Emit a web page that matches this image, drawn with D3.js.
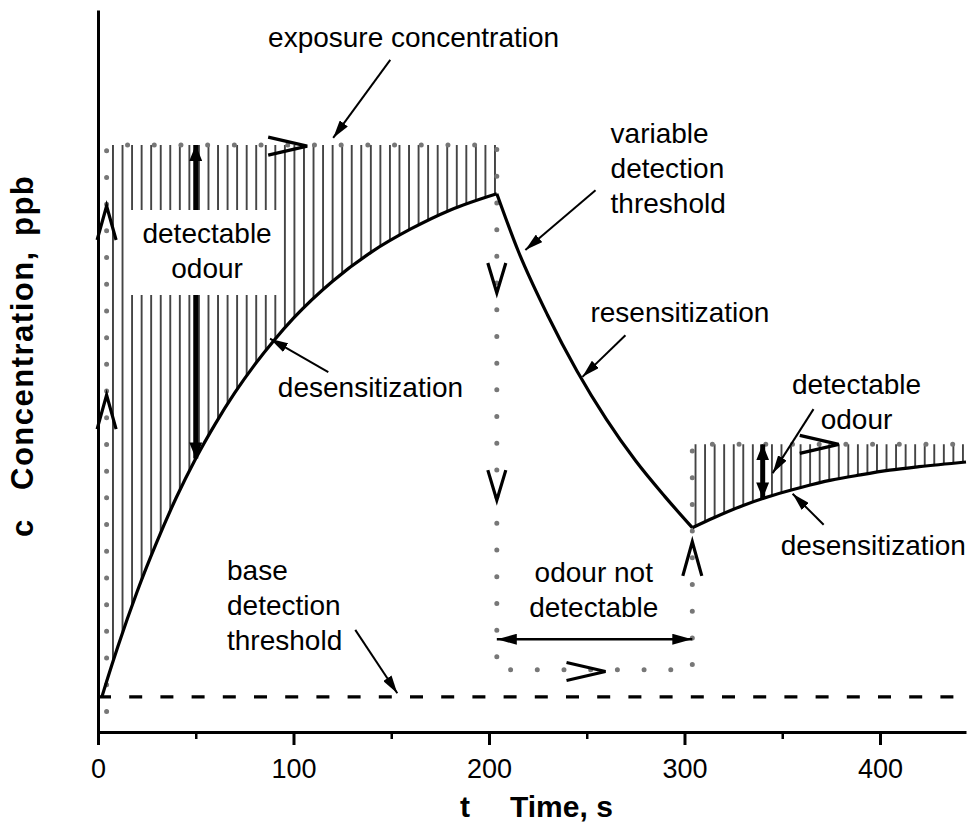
<!DOCTYPE html>
<html>
<head>
<meta charset="utf-8">
<script src="https://cdn.jsdelivr.net/npm/d3@7"></script>
<style>
  body { margin: 0; background: #fff; }
  text { font-family: "Liberation Sans", Arial, sans-serif; fill: #000; }
</style>
</head>
<body>
<svg id="chart" width="972" height="827"></svg>
<script>
// ---- time axis ----
const majorTicks = [0, 100, 200, 300, 400];
const minorTicks = [50, 150, 250, 350];

// ---- exposure concentration (step profile, ppb) ----
const exposureT = [4.4, 4.4, 204, 204, 304, 304, 444];
const exposureC = [3.5, 100, 100, 10.6, 10.6, 49, 49];

// ---- variable detection threshold ----
// desensitization during the first exposure
const desens1T = [2, 4.4, 10, 20, 30, 40, 50, 60, 70, 80, 90, 100, 120, 140, 160, 180, 204];
const desens1C = [6.0, 8.6, 14.4, 23.9, 32.3, 39.9, 46.6, 52.5, 57.8, 62.5, 66.7, 70.5, 76.8, 81.8, 85.7, 88.9, 91.7];
// resensitization without exposure
const resensT = [204, 215, 230, 245, 260, 275, 290, 304];
const resensC = [91.7, 81.9, 71.0, 61.5, 53.3, 46.2, 40.1, 34.8];
// desensitization during the second exposure
const desens2T = [304, 315, 330, 345, 360, 375, 390, 405, 420, 444];
const desens2C = [34.8, 36.5, 38.6, 40.3, 41.7, 42.9, 43.8, 44.6, 45.2, 46.0];

// base detection threshold
const baseThreshold = 6;

// ---- direction marks on the exposure profile: [t, c, direction] ----
const chevrons = [
  [4.4, 89.6, "up"], [4.4, 57.4, "up"],
  [107, 99.8, "right"],
  [204, 74.8, "down"], [204, 39.5, "down"],
  [259.6, 10.3, "right"],
  [304, 32.4, "up"],
  [378.9, 49, "right"]
];

// ---- labelled arrows: [t0, c0, t1, c1] ----
const pointerArrows = [
  [149.5, 114.5, 120.3, 101.2],   // exposure concentration
  [254.5, 92.3, 218.6, 82.1],     // variable detection threshold
  [269.8, 67.6, 247.8, 60.5],     // resensitization
  [131.6, 17.4, 153.1, 6.6],      // base detection threshold
  [371.2, 35.3, 355.3, 40.6],     // desensitization (2nd)
  [366.0, 55.0, 345.1, 44.1],     // detectable odour (2nd)
  [117.8, 61.3, 88.0, 67.0]       // desensitization (1st)
];
// double-headed arrows: [t0, c0, t1, c1]
const boldArrows = [
  [50, 100, 50, 46.6],
  [340, 49, 340, 39.8]
];
const gapArrow = [204, 15.8, 304, 15.8];

// ---- text labels: [lines, t, c of first baseline, anchor] ----
const labels = [
  [["exposure concentration"], 87, 116.7, "start"],
  [["detectable", "odour"], 55.8, 83.3, "middle"],
  [["desensitization"], 92, 57.0, "start"],
  [["variable", "detection", "threshold"], 262.2, 100.3, "start"],
  [["resensitization"], 251.9, 69.8, "start"],
  [["detectable", "odour"], 388, 57.5, "middle"],
  [["desensitization"], 349.2, 30.2, "start"],
  [["odour not", "detectable"], 253.6, 25.6, "middle"],
  [["base", "detection", "threshold"], 66, 25.9, "start"]
];

// ---------------------------------------------------------------
const svg = d3.select("#chart");
const x = d3.scaleLinear().domain([0, 444]).range([98, 966]);
const y = d3.scaleLinear().domain([0, 123]).range([732, 10]);
const zip = (ts, cs) => ts.map((t, i) => [t, cs[i]]);

const defs = svg.append("defs");
defs.append("pattern")
  .attr("id", "hatch")
  .attr("patternUnits", "userSpaceOnUse")
  .attr("x", 108.2).attr("y", 0)
  .attr("width", 9.55).attr("height", 20)
  .append("line")
  .attr("x1", 4.775).attr("x2", 4.775).attr("y1", 0).attr("y2", 20)
  .attr("stroke", "#000").attr("stroke-width", 1.4);

function arrowMarker(id, len, wid) {
  defs.append("marker")
    .attr("id", id)
    .attr("markerUnits", "userSpaceOnUse")
    .attr("viewBox", `0 ${-wid / 2} ${len} ${wid}`)
    .attr("refX", len).attr("refY", 0)
    .attr("markerWidth", len).attr("markerHeight", wid)
    .attr("orient", "auto-start-reverse")
    .append("path")
    .attr("d", `M0,${-wid / 2}L${len},0L0,${wid / 2}Z`)
    .attr("fill", "#000");
}
arrowMarker("thinHead", 18, 10);
arrowMarker("boldHead", 16, 13);
arrowMarker("gapHead", 20, 11);

// hatched regions where exposure exceeds the threshold
const hatchArea = d3.area()
  .x(d => x(d[0])).y1(d => y(d[1]))
  .curve(d3.curveMonotoneX);
svg.append("path")
  .datum(zip(desens1T, desens1C).filter(d => d[0] >= 4.4))
  .attr("d", hatchArea.y0(y(exposureC[1])))
  .attr("fill", "url(#hatch)");
svg.append("path")
  .datum(zip(desens2T, desens2C))
  .attr("d", hatchArea.y0(y(exposureC[5])))
  .attr("fill", "url(#hatch)");

// axes
const xAxis = svg.append("g")
  .attr("transform", `translate(0,${y(0)})`)
  .call(d3.axisBottom(x).tickValues(majorTicks).tickSize(13).tickSizeOuter(0)
    .tickPadding(14).tickFormat(d3.format("d")));
xAxis.select(".domain").attr("stroke-width", 3);
xAxis.selectAll(".tick line").attr("stroke-width", 3);
xAxis.selectAll(".tick text").style("font-size", "27px")
  .style("font-family", "'Liberation Sans', Arial, sans-serif");
const xMinor = svg.append("g")
  .attr("transform", `translate(0,${y(0)})`)
  .call(d3.axisBottom(x).tickValues(minorTicks).tickSize(7).tickSizeOuter(0).tickFormat(""));
xMinor.select(".domain").remove();
xMinor.selectAll(".tick line").attr("stroke-width", 2.5);

const yAxis = svg.append("g")
  .attr("transform", `translate(${x(0)},0)`)
  .call(d3.axisLeft(y).tickValues([]).tickSizeOuter(0));
yAxis.select(".domain").attr("stroke-width", 3);

// axis titles
svg.append("text").attr("x", 460).attr("y", 817)
  .style("font-size", "30px").style("font-weight", "bold").text("t");
svg.append("text").attr("x", 510).attr("y", 817)
  .style("font-size", "30px").style("font-weight", "bold").text("Time, s");
const yTitle = svg.append("g").attr("transform", "translate(33,0) rotate(-90)");
[["c", 537], ["Concentration,", 490], ["ppb", 236]].forEach(([s, pos]) => {
  yTitle.append("text").attr("x", -pos).attr("y", 0)
    .style("font-size", "31px").style("font-weight", "bold")
    .style("letter-spacing", "1.5px")
    .text(s);
});

// base detection threshold (dashed)
svg.append("line")
  .attr("x1", x(0)).attr("x2", x(444))
  .attr("y1", y(baseThreshold)).attr("y2", y(baseThreshold))
  .attr("stroke", "#000").attr("stroke-width", 3.2)
  .attr("stroke-dasharray", "13 18.2");

// exposure profile (dotted)
svg.append("path")
  .datum(zip(exposureT, exposureC))
  .attr("d", d3.line().x(d => x(d[0])).y(d => y(d[1])))
  .attr("fill", "none").attr("stroke", "#777")
  .attr("stroke-width", 5).attr("stroke-linecap", "round")
  .attr("stroke-dasharray", "0 26.7");

// detection threshold curves
const thrLine = d3.line().x(d => x(d[0])).y(d => y(d[1])).curve(d3.curveMonotoneX);
[[desens1T, desens1C], [resensT, resensC], [desens2T, desens2C]].forEach(([ts, cs]) => {
  svg.append("path")
    .datum(zip(ts, cs))
    .attr("d", thrLine)
    .attr("fill", "none").attr("stroke", "#000")
    .attr("stroke-width", 3.2).attr("stroke-linejoin", "round");
});

// bold double-headed arrows
boldArrows.forEach(a => {
  svg.append("line")
    .attr("x1", x(a[0])).attr("y1", y(a[1])).attr("x2", x(a[2])).attr("y2", y(a[3]))
    .attr("stroke", "#000").attr("stroke-width", 5)
    .attr("marker-start", "url(#boldHead)").attr("marker-end", "url(#boldHead)");
});

// "odour not detectable" span
svg.append("line")
  .attr("x1", x(gapArrow[0])).attr("y1", y(gapArrow[1]))
  .attr("x2", x(gapArrow[2])).attr("y2", y(gapArrow[3]))
  .attr("stroke", "#000").attr("stroke-width", 2.5)
  .attr("marker-start", "url(#gapHead)").attr("marker-end", "url(#gapHead)");

// direction chevrons
chevrons.forEach(([t, c, dir]) => {
  const px = x(t), py = y(c);
  let d;
  if (dir === "up") d = `M${px - 9.5},${py + 34}L${px},${py}L${px + 9.5},${py + 34}`;
  else if (dir === "down") d = `M${px - 9},${py - 30}L${px},${py}L${px + 9},${py - 30}`;
  else d = `M${px - 39},${py - 9}L${px},${py}L${px - 39},${py + 9}`;
  svg.append("path").attr("d", d)
    .attr("fill", "none").attr("stroke", "#000").attr("stroke-width", 3.2)
    .attr("stroke-linejoin", "miter");
});

// white box behind the first "detectable odour" label
svg.append("rect")
  .attr("x", 128).attr("y", 210).attr("width", 152).attr("height", 85)
  .attr("fill", "#fff");

// pointer arrows
pointerArrows.forEach(a => {
  svg.append("line")
    .attr("x1", x(a[0])).attr("y1", y(a[1])).attr("x2", x(a[2])).attr("y2", y(a[3]))
    .attr("stroke", "#000").attr("stroke-width", 2)
    .attr("marker-end", "url(#thinHead)");
});

// text labels
labels.forEach(([lines, t, c, anchor]) => {
  const txt = svg.append("text")
    .attr("x", x(t)).attr("y", y(c))
    .attr("text-anchor", anchor)
    .style("font-size", "28px");
  lines.forEach((s, i) => {
    txt.append("tspan").attr("x", x(t)).attr("dy", i === 0 ? 0 : 35).text(s);
  });
});
</script>
</body>
</html>
